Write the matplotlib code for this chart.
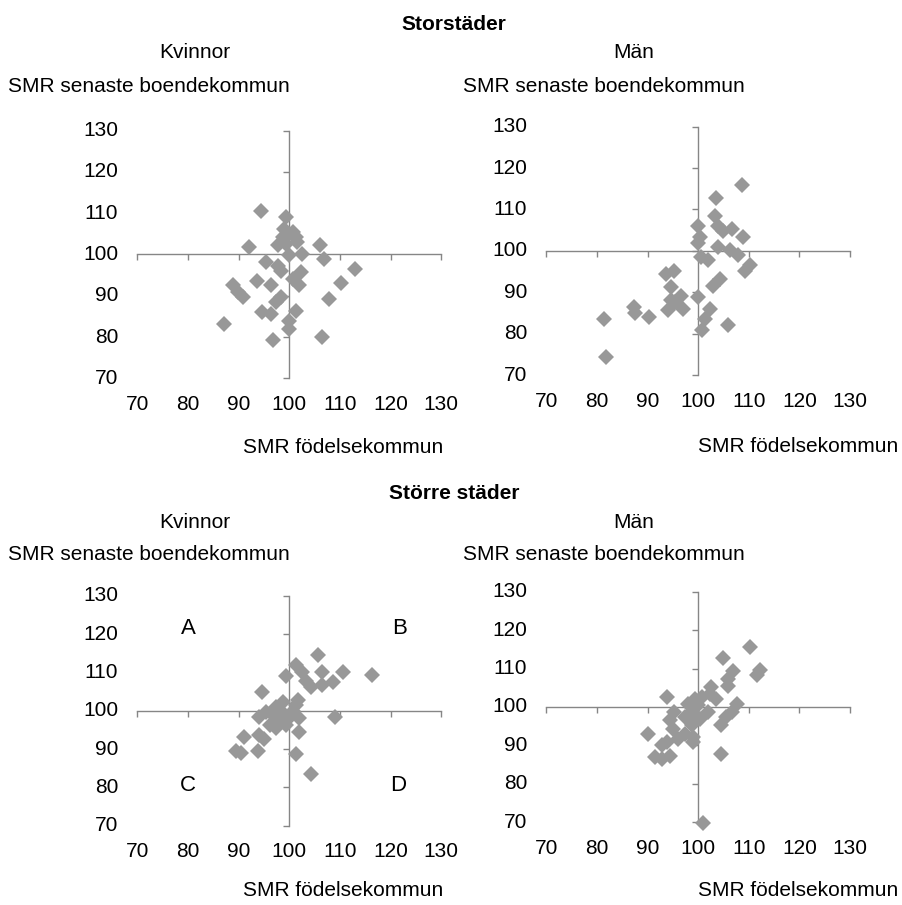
import matplotlib.pyplot as plt
from matplotlib.transforms import blended_transform_factory, offset_copy

plt.rcParams['font.family'] = ['Liberation Sans', 'DejaVu Sans']

# Storstäder, kvinnor
stor_kv_x = [94.5, 99.3, 99.0, 100.0, 100.7, 101.3, 98.7, 97.7, 99.3, 101.6,
             92.0, 106.1, 102.5, 100.0, 95.4, 97.7, 98.4, 106.9, 102.3, 113.0,
             100.7, 102.0, 93.6, 88.8, 96.4, 89.8, 90.8, 110.2, 98.4, 97.4,
             107.8, 94.7, 96.4, 101.3, 87.2, 100.0, 99.9, 96.7, 106.4]
stor_kv_y = [110.6, 109.0, 106.2, 105.0, 105.4, 104.2, 104.2, 102.3, 102.6, 103.0,
             101.9, 102.3, 100.2, 99.8, 98.1, 97.3, 96.1, 98.8, 95.7, 96.4,
             94.1, 92.5, 93.5, 92.5, 92.5, 90.9, 89.7, 93.1, 89.7, 88.5,
             89.3, 86.0, 85.6, 86.3, 83.2, 84.0, 82.0, 79.2, 80.0]

# Storstäder, män
stor_man_x = [108.7, 103.5, 103.4, 103.9, 99.9, 104.9, 106.6, 108.8, 100.3, 100.0,
              103.9, 106.3, 107.9, 100.5, 102.0, 110.2, 109.2, 93.6, 95.3, 104.3,
              103.0, 94.6, 96.7, 99.9, 95.4, 87.4, 87.5, 94.1, 97.0, 90.3,
              81.3, 102.3, 101.4, 100.7, 105.8, 81.7, 94.7]
stor_man_y = [116.0, 112.7, 108.5, 105.9, 105.9, 104.7, 105.2, 103.3, 103.3, 101.9,
              100.9, 100.2, 99.0, 98.5, 97.8, 96.6, 95.2, 94.4, 95.2, 93.1,
              91.4, 91.2, 89.0, 88.8, 87.7, 86.5, 85.1, 85.7, 85.9, 84.0,
              83.6, 85.9, 83.5, 81.0, 82.1, 74.3, 88.1]

# Större städer, kvinnor
storre_kv_x = [105.6, 101.3, 102.6, 106.4, 110.7, 116.3, 99.3, 103.3, 108.6, 104.3,
               106.4, 94.7, 101.8, 98.7, 97.4, 95.4, 96.7, 98.7, 100.7, 102.0,
               100.0, 98.0, 109.1, 96.1, 97.4, 102.0, 91.1, 94.1, 95.1, 89.5,
               90.5, 93.8, 101.3, 104.3, 94.1, 99.3, 101.3]
storre_kv_y = [114.6, 112.0, 110.1, 110.1, 110.1, 109.4, 109.2, 107.7, 107.5, 106.1,
               106.8, 105.0, 102.9, 102.4, 101.1, 99.8, 99.0, 99.4, 100.0, 98.1,
               98.1, 97.2, 98.5, 96.3, 95.5, 94.6, 93.3, 93.6, 92.7, 89.4,
               89.0, 89.4, 88.7, 83.5, 98.5, 96.3, 101.6]

# Större städer, män
storre_man_x = [110.2, 104.9, 112.2, 111.6, 106.9, 105.9, 105.9, 102.6, 102.3, 103.6,
                93.8, 99.3, 98.0, 100.0, 107.6, 95.3, 98.7, 102.0, 106.6, 97.4,
                100.3, 94.4, 105.6, 104.6, 98.7, 95.1, 90.1, 97.4, 99.0, 96.1,
                93.8, 92.8, 99.0, 91.4, 92.8, 94.4, 104.6, 101.0, 100.7]
storre_man_y = [115.7, 112.8, 109.6, 108.3, 109.3, 107.4, 105.5, 105.2, 103.5, 102.2,
                102.6, 102.2, 100.9, 100.4, 100.9, 98.7, 98.7, 98.7, 98.7, 97.4,
                97.0, 96.5, 97.4, 95.2, 95.2, 94.3, 93.0, 93.0, 92.2, 91.7,
                90.9, 90.0, 90.9, 87.0, 86.5, 87.2, 87.8, 69.8, 102.6]

ticks = [70, 80, 90, 100, 110, 120, 130]
quadrants = ['A', 'B', 'C', 'D']
quad_x = [80, 121.8, 80, 121.5]
quad_y = [121.5, 121.5, 80.5, 80.5]

W, H = 903, 905
fig = plt.figure(figsize=(W / 100, H / 100), dpi=100)

axis_col = '#868686'
mark_col = '#989898'
fs = 15


def px(x, y):
    return x / W, 1 - y / H


def panel(rect, xs, ys):
    ax = fig.add_axes(rect)
    ax.patch.set_visible(False)
    ax.set_xlim(70, 130)
    ax.set_ylim(70, 130)
    for s in ['top', 'right']:
        ax.spines[s].set_visible(False)
    for s in ['left', 'bottom']:
        ax.spines[s].set_position(('data', 100))
        ax.spines[s].set_color(axis_col)
        ax.spines[s].set_linewidth(1.0)
    ax.set_xticks(ticks)
    ax.set_yticks(ticks)
    ax.tick_params(direction='out', length=4.5, width=1.0, color=axis_col,
                   labelleft=False, labelbottom=False)
    ax.plot(xs, ys, 'D', color=mark_col, markersize=8.2, markeredgewidth=0,
            clip_on=False, zorder=3)

    # tick labels sit at the edges, not at the crossing axes
    ty = offset_copy(blended_transform_factory(ax.transAxes, ax.transData),
                     fig=fig, x=-19, y=0, units='dots')
    tx = offset_copy(blended_transform_factory(ax.transData, ax.transAxes),
                     fig=fig, x=0, y=-26, units='dots')
    for t in ticks:
        ax.text(0, t, str(t), transform=ty, ha='right', va='center', fontsize=fs)
        ax.text(t, 0, str(t), transform=tx, ha='center', va='center', fontsize=fs)
    return ax


panel([0.152, 0.582, 0.3367, 0.2736], stor_kv_x, stor_kv_y)
panel([0.605, 0.5856, 0.3363, 0.2744], stor_man_x, stor_man_y)
ax3 = panel([0.152, 0.0875, 0.3367, 0.2541], storre_kv_x, storre_kv_y)
panel([0.605, 0.0914, 0.3363, 0.2548], storre_man_x, storre_man_y)

for q, qx, qy in zip(quadrants, quad_x, quad_y):
    ax3.text(qx, qy, q, ha='center', va='center', fontsize=16)

# headings and axis titles
for top, title in [(0, 'Storstäder'), (469, 'Större städer')]:
    fig.text(*px(454, 24 + top), title, ha='center', va='center',
             fontsize=fs, fontweight='bold')
    fig.text(*px(195, 53 + top), 'Kvinnor', ha='center', va='center', fontsize=fs)
    fig.text(*px(634, 53 + top), 'Män', ha='center', va='center', fontsize=fs)
    fig.text(*px(8, 86 + top), 'SMR senaste boendekommun', ha='left', va='center',
             fontsize=fs)
    fig.text(*px(463, 86 + top), 'SMR senaste boendekommun', ha='left',
             va='center', fontsize=fs)
fig.text(*px(243, 447), 'SMR födelsekommun', ha='left', va='center', fontsize=fs)
fig.text(*px(698, 446), 'SMR födelsekommun', ha='left', va='center', fontsize=fs)
fig.text(*px(243, 890), 'SMR födelsekommun', ha='left', va='center', fontsize=fs)
fig.text(*px(698, 890), 'SMR födelsekommun', ha='left', va='center', fontsize=fs)

fig.savefig('out.png', dpi=100)
